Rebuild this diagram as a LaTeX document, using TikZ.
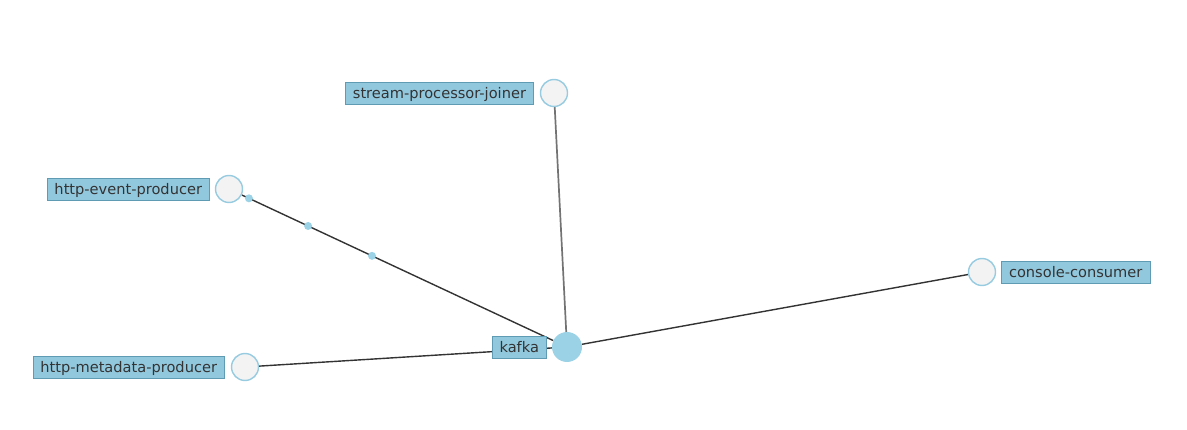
\documentclass[tikz,border=0pt]{standalone}
\usepackage{fontspec}
\setmainfont{DejaVu Sans}
\usetikzlibrary{positioning,backgrounds,calc}
\definecolor{tagfill}{HTML}{92C8DD}
\definecolor{tagline}{HTML}{5F9CB3}
\definecolor{ringline}{HTML}{96CBE0}
\definecolor{ringfill}{HTML}{F3F3F3}
\definecolor{hubfill}{HTML}{9BD2E6}
\definecolor{wire}{HTML}{333333}

\begin{document}
\begin{tikzpicture}[x=1pt,y=-1pt,
  svc/.style={draw=ringline,fill=ringfill,circle,line width=1.4pt,inner sep=0pt,minimum size=27pt},
  hub/.style={fill=hubfill,circle,inner sep=0pt,minimum size=30pt},
  tag/.style={draw=tagline,fill=tagfill,inner sep=0pt,minimum height=22pt,text=black!80,font=\fontsize{14.6}{15}\selectfont,text depth=0pt,text height=10.5pt,inner xsep=7.5pt,line width=0.6pt},
  msg/.style={fill=hubfill,circle,inner sep=0pt,minimum size=8pt},
  link/.style={draw=wire,line width=1.4pt}]
  \useasboundingbox (0,0) rectangle (1187,430);
  \node[hub] (kafka) at (567,347) {};
  \node[svc] (spj) at (554,93) {};
  \node[svc] (hep) at (229,189) {};
  \node[svc] (hmp) at (245,367) {};
  \node[svc] (cc) at (982,272) {};
  \node[tag,left=5pt of kafka] (kafkatag) {kafka};
  \node[tag,left=6pt of spj] (spjtag) {stream-processor-joiner};
  \node[tag,left=5pt of hep] (heptag) {http-event-producer};
  \node[tag,left=6pt of hmp] (hmptag) {http-metadata-producer};
  \node[tag,right=5pt of cc] (cctag) {console-consumer};
  \node[msg] (m1) at ($(hep)!0.059!(kafka)$) {};
  \node[msg] (m2) at ($(hep)!0.234!(kafka)$) {};
  \node[msg] (m3) at ($(hep)!0.423!(kafka)$) {};
  \begin{pgfonlayer}{background}
    \draw[link,draw=gray!90!black,line width=1.7pt] (spj) -- (kafka);
    \draw[link] (hep) -- (kafka);
    \draw[link] (hmp) -- (kafka);
    \draw[link] (cc) -- (kafka);
  \end{pgfonlayer}
\end{tikzpicture}
\end{document}
